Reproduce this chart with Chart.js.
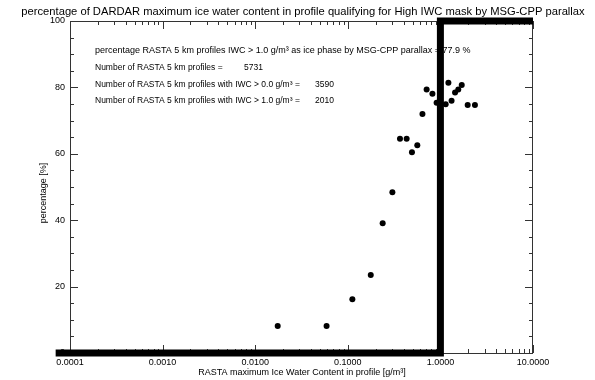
<!DOCTYPE html>
<html>
<head>
<meta charset="utf-8">
<script src="https://cdn.jsdelivr.net/npm/chart.js@4/dist/chart.umd.min.js"></script>
<style>
html,body{margin:0;padding:0;background:#fff;}
#c{display:block;}
</style>
</head>
<body>
<canvas id="c" width="595" height="380"></canvas>
<script>
// ---- data ----
const iwcMax = [0.0175, 0.059, 0.112, 0.177, 0.238, 0.303, 0.366, 0.432, 0.493, 0.563, 0.64, 0.71, 0.82, 0.91, 1.14, 1.22, 1.32, 1.44, 1.56, 1.70, 1.97, 2.36];
const percentQualifying = [8.1, 8.1, 16.2, 23.5, 39.1, 48.4, 64.5, 64.5, 60.5, 62.6, 72.0, 79.4, 78.1, 75.4, 74.9, 81.4, 76.0, 78.5, 79.4, 80.7, 74.7, 74.7];
const maskX = [0.00007, 1.0, 1.0, 10.0];
const maskY = [0, 0, 100, 100];
const xTickValues = [0.0001, 0.001, 0.01, 0.1, 1, 10];
const xTickLabels = ['0.0001', '0.0010', '0.0100', '0.1000', '1.0000', '10.0000'];
const yTickValues = [0, 20, 40, 60, 80, 100];
const yTickLabels = ['0', '20', '40', '60', '80', '100'];
const chartTitle = 'percentage of DARDAR maximum ice water content in profile qualifying for High IWC mask by MSG-CPP parallax';
const xTitle = 'RASTA maximum Ice Water Content in profile [g/m³]';
const yTitle = 'percentage [%]';
const statLabels = [
  'percentage RASTA 5 km profiles IWC > 1.0 g/m³ as ice phase by MSG-CPP parallax = 77.9 %',
  'Number of RASTA 5 km profiles =',
  'Number of RASTA 5 km profiles with IWC > 0.0 g/m³ =',
  'Number of RASTA 5 km profiles with IWC > 1.0 g/m³ ='
];
const statValues = ['', '5731', '3590', '2010'];

const FONT = '"Liberation Sans", Arial, Helvetica, sans-serif';
const AXIS_COLOR = '#333';

const decorations = {
  id: 'decorations',
  beforeDatasetsDraw(chart) {
    const {ctx, chartArea: a, scales: {x, y}} = chart;
    ctx.save();
    ctx.strokeStyle = AXIS_COLOR;
    ctx.lineWidth = 1;
    ctx.strokeRect(a.left + 0.5, a.top + 0.5, a.right - a.left - 1, a.bottom - a.top);
    const seg = (x1, y1, x2, y2) => { ctx.beginPath(); ctx.moveTo(x1, y1); ctx.lineTo(x2, y2); ctx.stroke(); };
    // y ticks (inward, both sides)
    for (let v = 0; v <= 100; v += 5) {
      const py = Math.round(y.getPixelForValue(v)) + 0.5;
      const L = (v % 20 === 0) ? 8 : 4;
      seg(a.left, py, a.left + L, py);
      seg(a.right, py, a.right - L, py);
    }
    // x ticks (inward, top and bottom)
    for (let d = -4; d <= 1; d++) {
      for (let m = 1; m <= 9; m++) {
        const v = m * Math.pow(10, d);
        if (v > 10.0001) break;
        const px = Math.round(x.getPixelForValue(v)) + 0.5;
        const L = (m === 1) ? 8 : 4;
        seg(px, a.bottom, px, a.bottom - L);
        seg(px, a.top, px, a.top + L);
      }
    }
    // statistics text block
    ctx.fillStyle = '#000';
    ctx.textBaseline = 'middle';
    ctx.textAlign = 'left';
    const lineY = [51, 67.5, 84.5, 101];
    const lineFont = [9.0, 8.5, 8.5, 8.5];
    const valX = [0, 244, 315, 315];
    statLabels.forEach((t, i) => {
      ctx.font = lineFont[i] + 'px ' + FONT;
      ctx.fillText(t, 95, lineY[i]);
      if (statValues[i]) ctx.fillText(statValues[i], valX[i], lineY[i]);
    });
    ctx.restore();
  },
  afterDraw(chart) {
    const {ctx} = chart;
    ctx.save();
    ctx.fillStyle = '#000';
    ctx.textBaseline = 'middle';
    ctx.textAlign = 'center';
    ctx.font = '11.2px ' + FONT;
    ctx.fillText(chartTitle, 303, 12);
    ctx.font = '9px ' + FONT;
    ctx.fillText(xTitle, 302, 373);
    ctx.translate(44, 193);
    ctx.rotate(-Math.PI / 2);
    ctx.fillText(yTitle, 0, 0);
    ctx.restore();
  }
};

new Chart(document.getElementById('c'), {
  type: 'scatter',
  data: {
    datasets: [
      {
        data: iwcMax.map((v, i) => ({x: v, y: percentQualifying[i]})),
        pointRadius: 3,
        pointBackgroundColor: '#000',
        pointBorderWidth: 0,
        showLine: false,
        order: 2
      },
      {
        data: maskX.map((v, i) => ({x: v, y: maskY[i]})),
        showLine: true,
        borderColor: '#000',
        borderWidth: 7,
        borderJoinStyle: 'miter',
        borderCapStyle: 'butt',
        pointRadius: 0,
        tension: 0,
        clip: false,
        order: 1
      }
    ]
  },
  options: {
    responsive: false,
    animation: false,
    devicePixelRatio: 1,
    layout: {padding: {top: 21, right: 62, left: 0, bottom: 0}},
    plugins: {legend: {display: false}, tooltip: {enabled: false}, title: {display: false}},
    scales: {
      x: {
        type: 'logarithmic',
        min: 0.0001,
        max: 10,
        grid: {display: false, drawTicks: false},
        border: {display: false},
        afterBuildTicks: s => { s.ticks = xTickValues.map(v => ({value: v})); },
        afterFit: s => { s.height = 27; },
        ticks: {
          autoSkip: false,
          maxRotation: 0,
          padding: 4,
          color: '#000',
          font: {family: FONT, size: 9},
          callback: (v, i) => xTickLabels[i]
        }
      },
      y: {
        min: 0,
        max: 100,
        grid: {display: false, drawTicks: false},
        border: {display: false},
        afterBuildTicks: s => { s.ticks = yTickValues.map(v => ({value: v})); },
        afterFit: s => { s.width = 70; },
        ticks: {
          padding: 5,
          color: '#000',
          font: {family: FONT, size: 9},
          callback: (v, i) => yTickLabels[i]
        }
      }
    }
  },
  plugins: [decorations]
});
</script>
</body>
</html>
